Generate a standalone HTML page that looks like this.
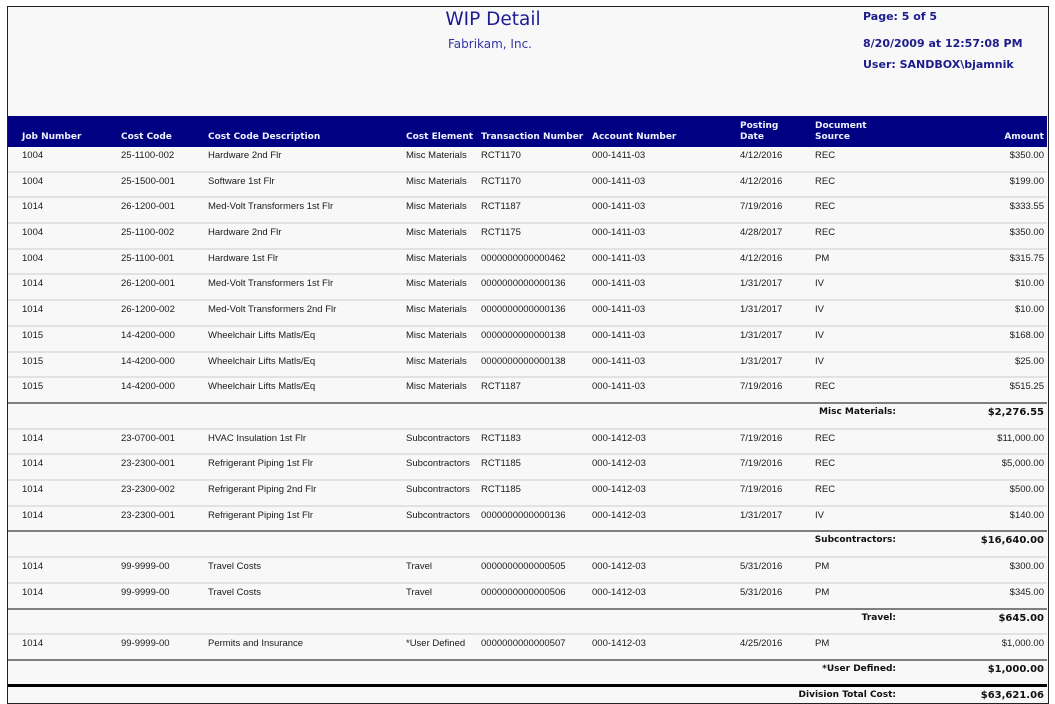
<!DOCTYPE html>
<html>
<head>
<meta charset="utf-8">
<style>
  html,body{margin:0;padding:0;background:#fff;}
  body{width:1055px;height:704px;position:relative;overflow:hidden;font-family:"Liberation Sans",sans-serif;}
  .frame{position:absolute;left:7px;top:6px;width:1042px;height:698px;box-sizing:border-box;border:1px solid #222;background:#f8f8f8;}
  .title{position:absolute;left:393px;width:200px;top:9px;text-align:center;font-family:"DejaVu Sans",sans-serif;font-size:18.5px;line-height:22px;color:#1c1c94;}
  .sub{position:absolute;left:390px;width:200px;top:37px;text-align:center;font-family:"DejaVu Sans",sans-serif;font-size:12px;line-height:14px;color:#3434a8;}
  .rh{position:absolute;left:863px;font-family:"DejaVu Sans",sans-serif;font-weight:bold;font-size:11px;line-height:13px;color:#1c1c8c;white-space:nowrap;}
  .hbar{position:absolute;left:8px;top:116px;width:1039px;height:31px;background:#000083;}
  .hbar span{position:absolute;font-family:"DejaVu Sans",sans-serif;font-weight:bold;font-size:9px;line-height:11px;color:#eef0ff;white-space:nowrap;}
  .r{position:absolute;left:8px;width:1039px;box-sizing:border-box;border-bottom:2px solid #e2e2e2;}
  .r.g{border-bottom:2px solid #7f7f7f;}
  .r.k{border-bottom:3px solid #000;}
  .r.n{border-bottom:none;}
  .r span{position:absolute;top:3px;font-size:9.5px;line-height:11px;color:#1a1a1a;white-space:nowrap;}
  .c1{left:14px}.c2{left:113px}.c3{left:200px}.c4{left:398px}.c5{left:473px}.c6{left:584px}.c7{left:732px}.c8{left:807px}
  .r span.am{right:3px;}
  .r span.sl{right:151px;font-family:"DejaVu Sans",sans-serif;font-weight:bold;font-size:9px;color:#111;}
  .r span.sa{right:3px;font-family:"DejaVu Sans",sans-serif;font-weight:bold;font-size:10px;color:#111;}
</style>
</head>
<body>
<div class="frame"></div>
<div class="title">WIP Detail</div>
<div class="sub">Fabrikam, Inc.</div>
<div class="rh" style="top:9.5px">Page: 5 of 5</div>
<div class="rh" style="top:36.5px">8/20/2009 at 12:57:08 PM</div>
<div class="rh" style="top:57.5px">User: SANDBOX\bjamnik</div>

<div class="hbar">
  <span style="left:14px;top:16px">Job Number</span>
  <span style="left:113px;top:16px">Cost Code</span>
  <span style="left:200px;top:16px">Cost Code Description</span>
  <span style="left:398px;top:16px">Cost Element</span>
  <span style="left:473px;top:16px">Transaction Number</span>
  <span style="left:584px;top:16px">Account Number</span>
  <span style="left:732px;top:5px">Posting<br>Date</span>
  <span style="left:807px;top:5px">Document<br>Source</span>
  <span style="right:3px;top:16px">Amount</span>
</div>

<div class="r" style="top:147px;height:26px"><span class="c1">1004</span><span class="c2">25-1100-002</span><span class="c3">Hardware 2nd Flr</span><span class="c4">Misc Materials</span><span class="c5">RCT1170</span><span class="c6">000-1411-03</span><span class="c7">4/12/2016</span><span class="c8">REC</span><span class="am">$350.00</span></div>
<div class="r" style="top:173px;height:25px"><span class="c1">1004</span><span class="c2">25-1500-001</span><span class="c3">Software 1st Flr</span><span class="c4">Misc Materials</span><span class="c5">RCT1170</span><span class="c6">000-1411-03</span><span class="c7">4/12/2016</span><span class="c8">REC</span><span class="am">$199.00</span></div>
<div class="r" style="top:198px;height:26px"><span class="c1">1014</span><span class="c2">26-1200-001</span><span class="c3">Med-Volt Transformers 1st Flr</span><span class="c4">Misc Materials</span><span class="c5">RCT1187</span><span class="c6">000-1411-03</span><span class="c7">7/19/2016</span><span class="c8">REC</span><span class="am">$333.55</span></div>
<div class="r" style="top:224px;height:26px"><span class="c1">1004</span><span class="c2">25-1100-002</span><span class="c3">Hardware 2nd Flr</span><span class="c4">Misc Materials</span><span class="c5">RCT1175</span><span class="c6">000-1411-03</span><span class="c7">4/28/2017</span><span class="c8">REC</span><span class="am">$350.00</span></div>
<div class="r" style="top:250px;height:25px"><span class="c1">1004</span><span class="c2">25-1100-001</span><span class="c3">Hardware 1st Flr</span><span class="c4">Misc Materials</span><span class="c5">0000000000000462</span><span class="c6">000-1411-03</span><span class="c7">4/12/2016</span><span class="c8">PM</span><span class="am">$315.75</span></div>
<div class="r" style="top:275px;height:26px"><span class="c1">1014</span><span class="c2">26-1200-001</span><span class="c3">Med-Volt Transformers 1st Flr</span><span class="c4">Misc Materials</span><span class="c5">0000000000000136</span><span class="c6">000-1411-03</span><span class="c7">1/31/2017</span><span class="c8">IV</span><span class="am">$10.00</span></div>
<div class="r" style="top:301px;height:26px"><span class="c1">1014</span><span class="c2">26-1200-002</span><span class="c3">Med-Volt Transformers 2nd Flr</span><span class="c4">Misc Materials</span><span class="c5">0000000000000136</span><span class="c6">000-1411-03</span><span class="c7">1/31/2017</span><span class="c8">IV</span><span class="am">$10.00</span></div>
<div class="r" style="top:327px;height:26px"><span class="c1">1015</span><span class="c2">14-4200-000</span><span class="c3">Wheelchair Lifts Matls/Eq</span><span class="c4">Misc Materials</span><span class="c5">0000000000000138</span><span class="c6">000-1411-03</span><span class="c7">1/31/2017</span><span class="c8">IV</span><span class="am">$168.00</span></div>
<div class="r" style="top:353px;height:25px"><span class="c1">1015</span><span class="c2">14-4200-000</span><span class="c3">Wheelchair Lifts Matls/Eq</span><span class="c4">Misc Materials</span><span class="c5">0000000000000138</span><span class="c6">000-1411-03</span><span class="c7">1/31/2017</span><span class="c8">IV</span><span class="am">$25.00</span></div>
<div class="r g" style="top:378px;height:26px"><span class="c1">1015</span><span class="c2">14-4200-000</span><span class="c3">Wheelchair Lifts Matls/Eq</span><span class="c4">Misc Materials</span><span class="c5">RCT1187</span><span class="c6">000-1411-03</span><span class="c7">7/19/2016</span><span class="c8">REC</span><span class="am">$515.25</span></div>
<div class="r" style="top:404px;height:26px"><span class="sl">Misc Materials:</span><span class="sa">$2,276.55</span></div>
<div class="r" style="top:430px;height:25px"><span class="c1">1014</span><span class="c2">23-0700-001</span><span class="c3">HVAC Insulation 1st Flr</span><span class="c4">Subcontractors</span><span class="c5">RCT1183</span><span class="c6">000-1412-03</span><span class="c7">7/19/2016</span><span class="c8">REC</span><span class="am">$11,000.00</span></div>
<div class="r" style="top:455px;height:26px"><span class="c1">1014</span><span class="c2">23-2300-001</span><span class="c3">Refrigerant Piping 1st Flr</span><span class="c4">Subcontractors</span><span class="c5">RCT1185</span><span class="c6">000-1412-03</span><span class="c7">7/19/2016</span><span class="c8">REC</span><span class="am">$5,000.00</span></div>
<div class="r" style="top:481px;height:26px"><span class="c1">1014</span><span class="c2">23-2300-002</span><span class="c3">Refrigerant Piping 2nd Flr</span><span class="c4">Subcontractors</span><span class="c5">RCT1185</span><span class="c6">000-1412-03</span><span class="c7">7/19/2016</span><span class="c8">REC</span><span class="am">$500.00</span></div>
<div class="r g" style="top:507px;height:25px"><span class="c1">1014</span><span class="c2">23-2300-001</span><span class="c3">Refrigerant Piping 1st Flr</span><span class="c4">Subcontractors</span><span class="c5">0000000000000136</span><span class="c6">000-1412-03</span><span class="c7">1/31/2017</span><span class="c8">IV</span><span class="am">$140.00</span></div>
<div class="r" style="top:532px;height:26px"><span class="sl">Subcontractors:</span><span class="sa">$16,640.00</span></div>
<div class="r" style="top:558px;height:26px"><span class="c1">1014</span><span class="c2">99-9999-00</span><span class="c3">Travel Costs</span><span class="c4">Travel</span><span class="c5">0000000000000505</span><span class="c6">000-1412-03</span><span class="c7">5/31/2016</span><span class="c8">PM</span><span class="am">$300.00</span></div>
<div class="r g" style="top:584px;height:26px"><span class="c1">1014</span><span class="c2">99-9999-00</span><span class="c3">Travel Costs</span><span class="c4">Travel</span><span class="c5">0000000000000506</span><span class="c6">000-1412-03</span><span class="c7">5/31/2016</span><span class="c8">PM</span><span class="am">$345.00</span></div>
<div class="r" style="top:610px;height:25px"><span class="sl">Travel:</span><span class="sa">$645.00</span></div>
<div class="r g" style="top:635px;height:26px"><span class="c1">1014</span><span class="c2">99-9999-00</span><span class="c3">Permits and Insurance</span><span class="c4">*User Defined</span><span class="c5">0000000000000507</span><span class="c6">000-1412-03</span><span class="c7">4/25/2016</span><span class="c8">PM</span><span class="am">$1,000.00</span></div>
<div class="r k" style="top:661px;height:26px"><span class="sl">*User Defined:</span><span class="sa">$1,000.00</span></div>
<div class="r n" style="top:687px;height:15px"><span class="sl">Division Total Cost:</span><span class="sa">$63,621.06</span></div>
</body>
</html>
